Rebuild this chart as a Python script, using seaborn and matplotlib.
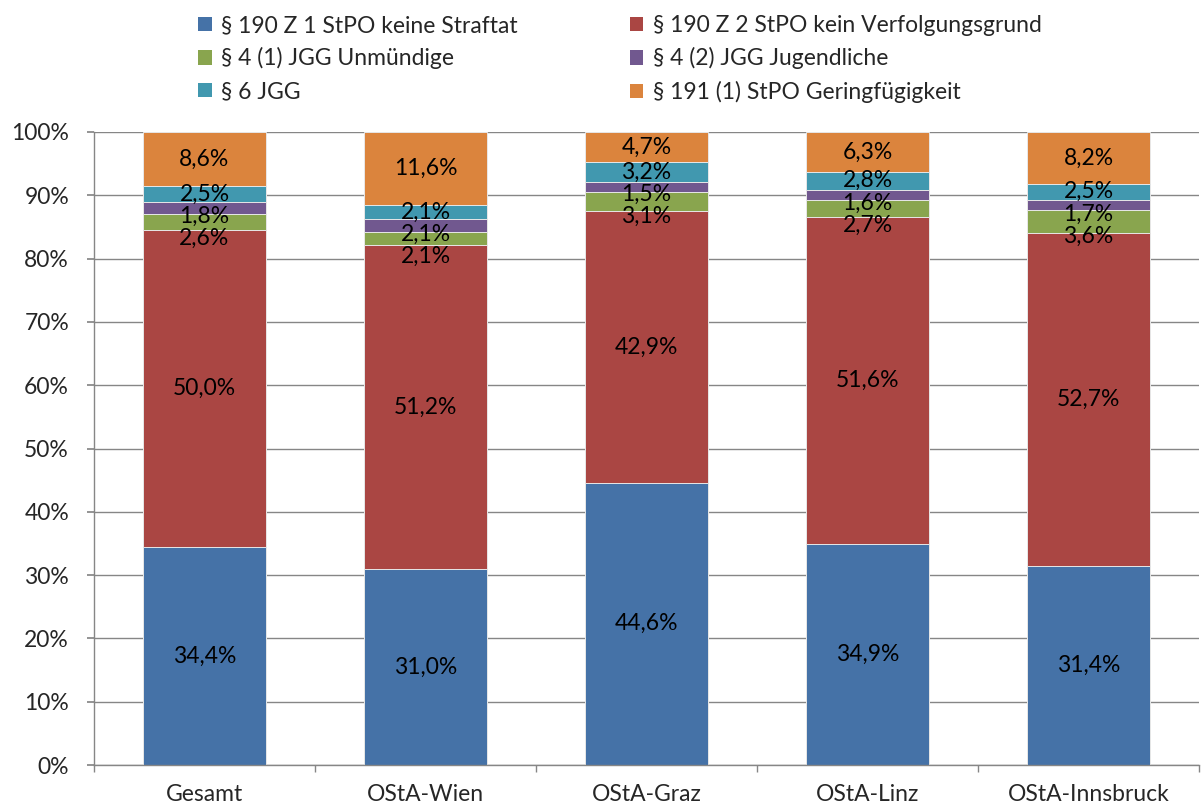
import numpy as np
import pandas as pd
import matplotlib
matplotlib.use("Agg")
import matplotlib.pyplot as plt
import seaborn as sns
from matplotlib.patches import Patch

regions = ["Gesamt", "OStA-Wien", "OStA-Graz", "OStA-Linz", "OStA-Innsbruck"]

series_names = [
    "§ 190 Z 1 StPO keine Straftat",
    "§ 190 Z 2 StPO kein Verfolgungsgrund",
    "§ 4 (1) JGG Unmündige",
    "§ 4 (2) JGG Jugendliche",
    "§ 6 JGG",
    "§ 191 (1) StPO Geringfügigkeit",
]

keine_straftat = [34.4, 31.0, 44.6, 34.9, 31.4]
kein_verfolgungsgrund = [50.0, 51.2, 42.9, 51.6, 52.7]
unmuendige = [2.6, 2.1, 3.1, 2.7, 3.6]
jugendliche = [1.8, 2.1, 1.5, 1.6, 1.7]
jgg6 = [2.5, 2.1, 3.2, 2.8, 2.5]
geringfuegigkeit = [8.6, 11.6, 4.7, 6.3, 8.2]

colors = ["#4572A7", "#AA4643", "#89A54E", "#71588F", "#4198AF", "#DB843D"]

sns.set_theme(style="white")
plt.rcParams["font.family"] = ["Lato", "DejaVu Sans"]
fs = 16.5

data = np.array([keine_straftat, kein_verfolgungsgrund, unmuendige,
                 jugendliche, jgg6, geringfuegigkeit])
# 100% stacked: normalise each column
shares = data / data.sum(axis=0) * 100
cum = np.cumsum(shares, axis=0)

fig, ax = plt.subplots(figsize=(12.01, 8.11), dpi=100)
fig.subplots_adjust(left=94/1201, right=1199/1201, top=1-132/811, bottom=1-765/811)

# draw cumulative bars from the top series down so lower ones cover upper ones
for i in range(len(series_names) - 1, -1, -1):
    df = pd.DataFrame({"region": regions, "value": cum[i]})
    sns.barplot(data=df, x="region", y="value", color=colors[i], width=0.56,
                edgecolor="#E8E8E8", linewidth=0.7, saturation=1, ax=ax, zorder=2)

# data labels, centred, pushed down when they would overlap
gap = 3.5
for j in range(len(regions)):
    prev = None
    for i in range(len(series_names) - 1, -1, -1):
        y = cum[i, j] - shares[i, j] / 2
        if prev is not None and prev - y < gap:
            y = prev - gap
        prev = y
        ax.text(j, y, f"{data[i, j]:.1f}%".replace(".", ","), ha="center",
                va="center", fontsize=fs, color="black", zorder=3)

ax.set_ylim(0, 100)
ax.set_xlim(-0.5, 4.5)
ax.set_yticks(np.arange(0, 101, 10))
ax.set_yticklabels([f"{v}%" for v in range(0, 101, 10)])
ax.set_xlabel("")
ax.set_ylabel("")

ax.grid(axis="y", color="#868686", linewidth=1)
ax.grid(axis="x", visible=False)
ax.set_axisbelow(True)

for s in ["top", "right"]:
    ax.spines[s].set_visible(False)
for s in ["left", "bottom"]:
    ax.spines[s].set_color("#868686")
    ax.spines[s].set_linewidth(1)

ax.tick_params(axis="y", length=5, color="#868686", labelsize=fs, pad=13, left=True)
ax.set_xticks(np.arange(-0.5, 5, 1), minor=True)
ax.tick_params(axis="x", which="major", length=0, labelsize=fs, pad=14)
ax.tick_params(axis="x", which="minor", length=5, color="#868686", bottom=True)

order = [0, 2, 4, 1, 3, 5]
handles = [Patch(facecolor=colors[k], edgecolor="none") for k in order]
labels = [series_names[k] for k in order]
fig.legend(handles, labels, ncol=2, loc="upper left",
           bbox_to_anchor=(183/1201, 1), frameon=False, fontsize=fs,
           handlelength=0.6, handleheight=0.6, handletextpad=0.4,
           labelspacing=0.5, columnspacing=4.9, borderpad=0.15)

fig.savefig("out.png", dpi=100)
